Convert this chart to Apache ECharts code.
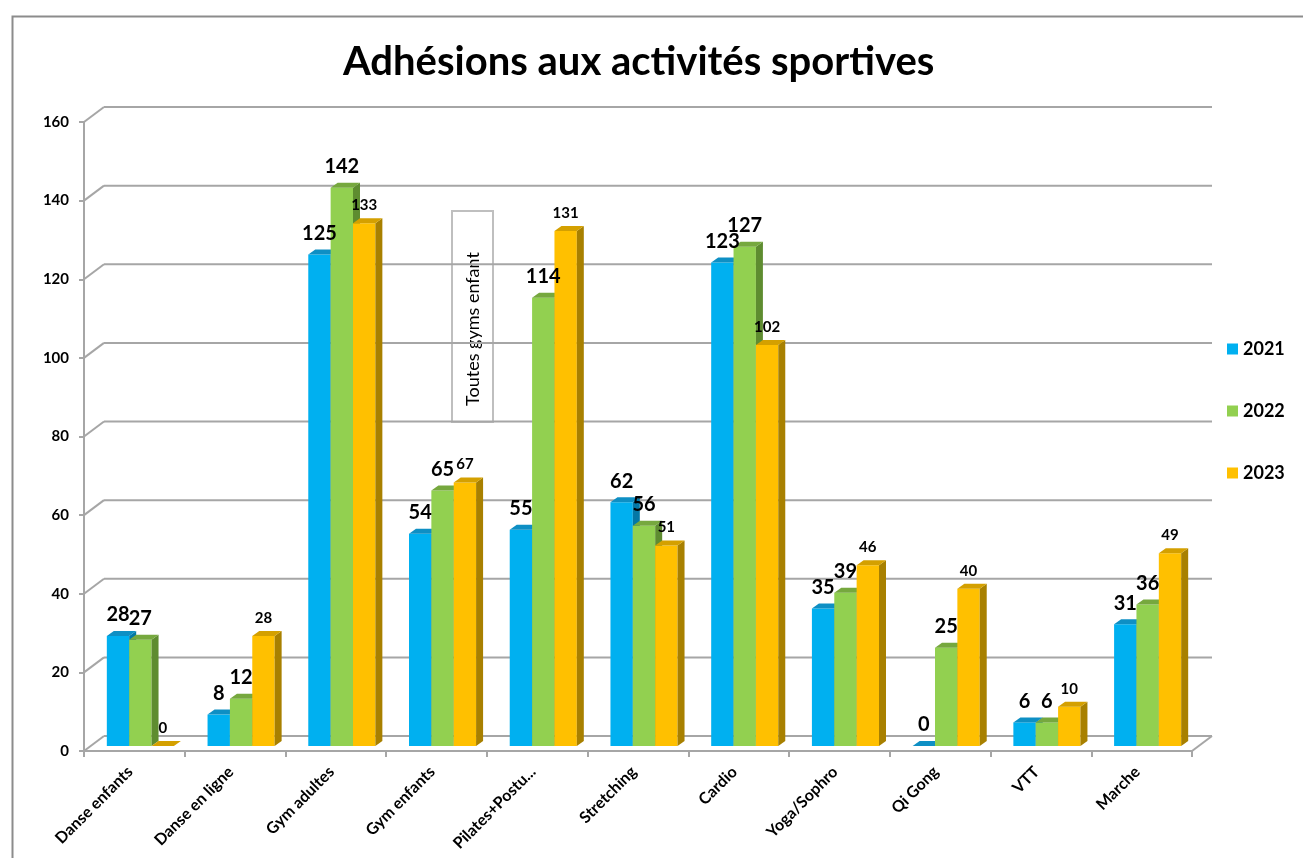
<!DOCTYPE html>
<html>
<head>
<meta charset="utf-8">
<script src="https://cdn.jsdelivr.net/npm/echarts@6/dist/echarts.min.js"></script>
<style>html,body{margin:0;padding:0;background:#fff}#c{width:1303px;height:858px}</style>
</head>
<body>
<div id="c"></div>
<script>
const categories = ['Danse enfants','Danse en ligne','Gym adultes','Gym enfants','Pilates+Postu...','Stretching','Cardio','Yoga/Sophro','Qi Gong','VTT','Marche'];
const years = ['2021','2022','2023'];
const v2021 = [28, 8, 125, 54, 55, 62, 123, 35, 0, 6, 31];
const v2022 = [27, 12, 142, 65, 114, 56, 127, 39, 25, 6, 36];
const v2023 = [0, 28, 133, 67, 131, 51, 102, 46, 40, 10, 49];
const yTicks = [0, 20, 40, 60, 80, 100, 120, 140, 160];

const values = [v2021, v2022, v2023];
const FONT = 'Lato, "Open Sans", sans-serif';
const palette = [
  {front:'#00B0F0', top:'#0E8FC4', side:'#0478A6', label:20, gap:21},
  {front:'#92D050', top:'#76A83E', side:'#5E8C30', label:20, gap:21},
  {front:'#FFC000', top:'#D4A000', side:'#A88000', label:15, gap:18}
];
const DEPTH_X = 7, DEPTH_Y = -5;   // bar depth
const SHIFT_X = 6, SHIFT_Y = -5;   // bar placement inside the box
const WALL_X = 20, WALL_Y = -15;   // back wall offset

function barGeom(api, s){
  const cat = api.value(0), v = api.value(1);
  const band = api.size([1, 0])[0];
  const bw = band * 0.222;
  const c = api.coord([cat, v]);
  const c0 = api.coord([cat, 0]);
  const left = c[0] - 1.5 * bw + SHIFT_X + s * bw;
  const top = c[1] + SHIFT_Y;
  const bottom = c0[1] + SHIFT_Y;
  return {left, top, bottom, bw, v};
}

function barSeries(s){
  const p = palette[s];
  return {
    type:'custom', name: years[s], z: 2, clip:false,
    itemStyle:{color:p.front},
    encode:{x:0, y:1},
    data: values[s].map((v,i)=>[i, v]),
    renderItem: function(params, api){
      const g = barGeom(api, s);
      const {left, top, bottom, bw} = g;
      return {type:'group', children:[
        {type:'rect', shape:{x:left, y:top, width:bw, height:bottom-top}, style:{fill:p.front}},
        {type:'polygon', shape:{points:[[left+bw,top],[left+bw+DEPTH_X,top+DEPTH_Y],[left+bw+DEPTH_X,bottom+DEPTH_Y],[left+bw,bottom]]}, style:{fill:p.side}},
        {type:'polygon', shape:{points:[[left,top],[left+DEPTH_X,top+DEPTH_Y],[left+bw+DEPTH_X,top+DEPTH_Y],[left+bw,top]]}, style:{fill:p.top}}
      ]};
    }
  };
}

function labelSeries(s){
  const p = palette[s];
  return {
    type:'custom', name:'lbl'+years[s], z: 6, clip:false, silent:true,
    encode:{x:0, y:1},
    data: values[s].map((v,i)=>[i, v]),
    renderItem: function(params, api){
      const g = barGeom(api, s);
      return {type:'text', style:{text:String(g.v), x:g.left + g.bw/2, y:g.top - p.gap,
        align:'center', verticalAlign:'middle', fill:'#000',
        font:'bold ' + p.label + 'px ' + FONT}};
    }
  };
}

const wallSeries = {
  type:'custom', name:'wall', z:1, clip:false, silent:true,
  encode:{y:1},
  data: yTicks.map(v=>[0, v]),
  renderItem: function(params, api){
    const cs = params.coordSys;
    const v = api.value(1);
    const y = api.coord([0, v])[1];
    const x0 = cs.x, x1 = cs.x + cs.width;
    const st = {stroke:'#A6A6A6', lineWidth:2};
    const ch = [
      {type:'line', shape:{x1:x0, y1:y, x2:x0+WALL_X, y2:y+WALL_Y}, style:st},
      {type:'line', shape:{x1:x0+WALL_X, y1:y+WALL_Y, x2:x1+WALL_X, y2:y+WALL_Y}, style:st}
    ];
    if (v === 0) {
      ch.push({type:'line', shape:{x1:x1, y1:y, x2:x1+WALL_X, y2:y+WALL_Y}, style:st});
    }
    return {type:'group', children:ch};
  }
};

const chart = echarts.init(document.getElementById('c'));
chart.setOption({
  backgroundColor:'#fff',
  animation:false,
  title:{text:'Adhésions aux activités sportives', left:343, top:42, padding:0,
    textStyle:{fontFamily:FONT, fontWeight:'bold', fontSize:40, color:'#000'}},
  legend:{data:years, orient:'vertical', left:1222, top:334, itemWidth:11, itemHeight:11, itemGap:42,
    icon:'rect', textStyle:{fontFamily:FONT, fontWeight:'bold', fontSize:18, color:'#000', lineHeight:20}},
  grid:{left:84, right:111, top:122, bottom:107},
  xAxis:{type:'category', data:categories, boundaryGap:true,
    axisLine:{lineStyle:{color:'#A6A6A6', width:2}},
    axisTick:{show:true, length:6, lineStyle:{color:'#A6A6A6', width:2}},
    axisLabel:{rotate:45, interval:0, margin:14, padding:[0,6,0,0], fontFamily:FONT, fontWeight:'bold', fontSize:16, color:'#000'}},
  yAxis:{type:'value', min:0, max:160, interval:20,
    axisLine:{show:true, lineStyle:{color:'#A6A6A6', width:2}},
    axisTick:{show:true, length:5, lineStyle:{color:'#A6A6A6', width:2}},
    splitLine:{show:false},
    axisLabel:{margin:15, fontFamily:FONT, fontWeight:'bold', fontSize:15, color:'#000'}},
  graphic:[
    {type:'rect', left:10, top:14, shape:{width:1300, height:850}, style:{fill:'none', stroke:'#8C8C8C', lineWidth:2}, z:0, silent:true},
    {type:'group', left:451, top:210, z:100, children:[
      {type:'rect', shape:{x:0, y:0, width:41, height:211}, style:{fill:'#fff', stroke:'#BFBFBF', lineWidth:2}},
      {type:'text', x:21, y:118, rotation:Math.PI/2, style:{text:'Toutes gyms enfant', align:'center', verticalAlign:'middle', fill:'#000', font:'18px ' + FONT}}
    ]}
  ],
  series:[wallSeries, barSeries(0), barSeries(1), barSeries(2), labelSeries(0), labelSeries(1), labelSeries(2)]
});
</script>
</body>
</html>
